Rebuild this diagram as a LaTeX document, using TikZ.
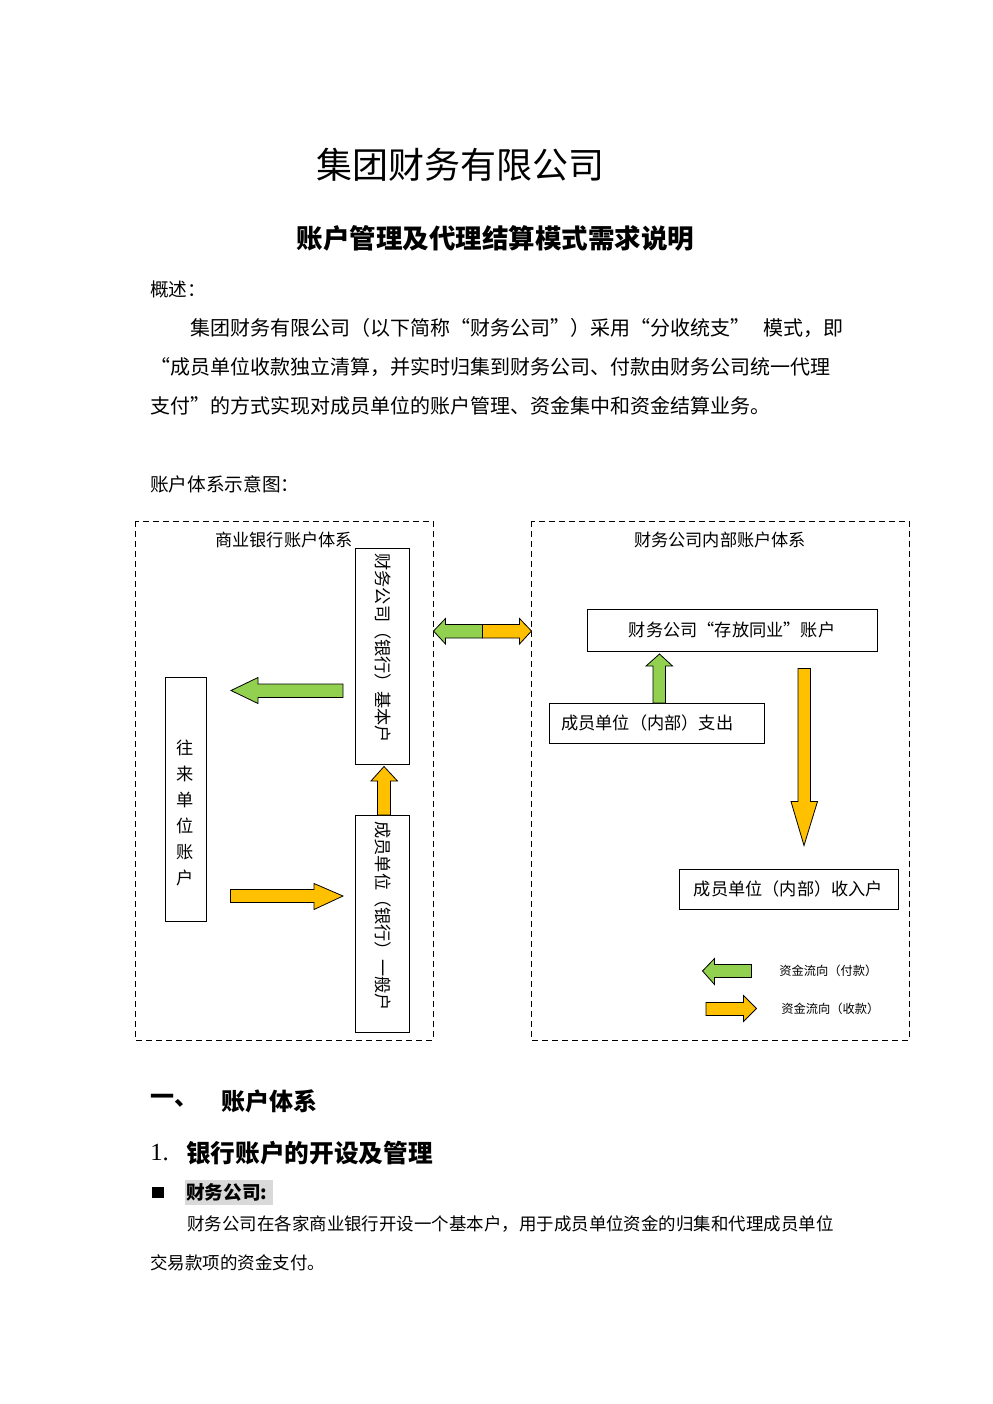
\documentclass[tikz,border=0pt]{standalone}
\usepackage{fontspec}
\setmainfont{Liberation Serif}
\newfontfamily\cjk{Noto Sans CJK SC}
\newcommand\myfs[1]{\fontsize{#1}{#1}\selectfont}
\definecolor{agreen}{HTML}{92D050}
\definecolor{ayellow}{HTML}{FFC000}
\definecolor{hlgray}{HTML}{D9D9D9}
\begin{document}
\begin{tikzpicture}[x=0.75pt,y=-0.75pt,
  txt/.style={inner sep=0pt, anchor=west, font=\cjk\myfs{15pt}},
  lbl/.style={inner sep=0pt, font=\cjk\myfs{12.9pt}},
  box/.style={draw, line width=0.75pt, inner sep=0pt},
  grp/.style={draw, line width=0.75pt, dash pattern=on 4.5pt off 3pt},
  arr/.style={draw=black, line width=0.6pt, line join=miter}]
\useasboundingbox (0,0) rectangle (993,1404);
\fill[white] (0,0) rectangle (993,1404);

% titles
\node[inner sep=0pt, font=\cjk\myfs{27pt}] (title) at (460,165) {集团财务有限公司};
\node[inner sep=0pt, font=\cjk\bfseries\myfs{19.9pt}] (subtitle) at (495.5,238) {账户管理及代理结算模式需求说明};

% overview
\node[txt, font=\cjk\myfs{14pt}] (ov) at (150,289) {概述：};
\node[txt] (p1a) at (190,328) {集团财务有限公司（以下简称“财务公司”）采用“分收统支”};
\node[txt] (p1b) at (763,328) {模式，即};
\node[txt] (p2) at (150,367) {“成员单位收款独立清算，并实时归集到财务公司、付款由财务公司统一代理};
\node[txt] (p3) at (150,406) {支付”的方式实现对成员单位的账户管理、资金集中和资金结算业务。};
\node[txt, font=\cjk\myfs{14pt}] (dg) at (150,484) {账户体系示意图：};

% group boxes
\draw[grp] (135,521) rectangle (433,1040);
\draw[grp] (531,521) rectangle (909,1040);
\node[lbl] (gl) at (284,540) {商业银行账户体系};
\node[lbl] (gr) at (720,540) {财务公司内部账户体系};

% account boxes
\node[box, minimum width=40.5pt, minimum height=162pt] (jb) at (382,656) {};
\node[lbl, rotate=-90] (jbt) at (383,648) {财务公司（银行）基本户};
\node[box, minimum width=40.5pt, minimum height=162.75pt] (yb) at (382,923.5) {};
\node[lbl, rotate=-90] (ybt) at (383,916) {成员单位（银行）一般户};
\node[box, minimum width=30.75pt, minimum height=183pt] (wl) at (185.5,799) {};
\node[inner sep=0pt, align=center, font=\cjk\fontsize{12.9pt}{19.5pt}\selectfont] (wlt) at (185.5,812.5) {往\\来\\单\\位\\账\\户};
\node[box, minimum width=217.5pt, minimum height=31.5pt, font=\cjk\myfs{12.9pt}] (cf) at (732,630) {财务公司“存放同业”账户};
\node[box, minimum width=161.25pt, minimum height=30pt] (zc) at (656.5,723) {};
\node[lbl, anchor=west] (zct) at (561,723) {成员单位（内部）支出};
\node[box, minimum width=164.25pt, minimum height=30pt, font=\cjk\myfs{12.9pt}] (sr) at (788.5,889) {成员单位（内部）收入户};

% arrows
\filldraw[arr, fill=agreen] (231,690.5) -- (258,677.5) -- (258,684) -- (343,684) -- (343,697.5) -- (258,697.5) -- (258,703.5) -- cycle;
\filldraw[arr, fill=ayellow] (384,766.5) -- (397.5,781) -- (390.5,781) -- (390.5,815) -- (377.5,815) -- (377.5,781) -- (371,781) -- cycle;
\filldraw[arr, fill=ayellow] (230.5,889.5) -- (314,889.5) -- (314,883.5) -- (343,896) -- (314,909.5) -- (314,902.5) -- (230.5,902.5) -- cycle;
\filldraw[arr, fill=agreen] (433.5,631) -- (445.5,618.5) -- (445.5,624.5) -- (482.5,624.5) -- (482.5,638) -- (445.5,638) -- (445.5,644) -- cycle;
\filldraw[arr, fill=ayellow] (482.5,624.5) -- (519.5,624.5) -- (519.5,618.5) -- (531.5,631) -- (519.5,644) -- (519.5,638) -- (482.5,638) -- cycle;
\filldraw[arr, fill=agreen] (659.5,654) -- (672.5,666) -- (665.5,666) -- (665.5,703) -- (653,703) -- (653,666) -- (646,666) -- cycle;
\filldraw[arr, fill=ayellow] (798,668.5) -- (810.5,668.5) -- (810.5,801.5) -- (817.5,801.5) -- (804,845.5) -- (791,801.5) -- (798,801.5) -- cycle;

% legend
\filldraw[arr, fill=agreen] (702.5,971) -- (714.5,958.5) -- (714.5,964.5) -- (751.5,964.5) -- (751.5,977.5) -- (714.5,977.5) -- (714.5,984.5) -- cycle;
\filldraw[arr, fill=ayellow] (706,1002.5) -- (743.5,1002.5) -- (743.5,995.5) -- (756.5,1008.5) -- (743.5,1021.5) -- (743.5,1015.5) -- (706,1015.5) -- cycle;
\node[txt, font=\cjk\myfs{9.2pt}] (lg1) at (779,971) {资金流向（付款）};
\node[txt, font=\cjk\myfs{9.2pt}] (lg2) at (781,1009) {资金流向（收款）};

% section headings
\node[txt, font=\cjk\bfseries\myfs{18pt}] (h1a) at (150,1101) {一、};
\node[txt, font=\cjk\bfseries\myfs{18pt}] (h1b) at (221,1101) {账户体系};
\node[txt, font=\myfs{18.5pt}] (h2a) at (150,1153) {1.};
\node[txt, font=\cjk\bfseries\myfs{18.5pt}] (h2b) at (186,1153) {银行账户的开设及管理};
\fill[hlgray] (185,1180) rectangle (273,1205);
\fill[black] (152,1186.5) rectangle (163.5,1198);
\node[txt, font=\cjk\bfseries\myfs{14pt}] (h3) at (186,1192) {财务公司:};
\node[txt, font=\cjk\myfs{13.1pt}] (q1) at (187,1224) {财务公司在各家商业银行开设一个基本户，用于成员单位资金的归集和代理成员单位};
\node[txt, font=\cjk\myfs{13.1pt}] (q2) at (150,1263) {交易款项的资金支付。};
\end{tikzpicture}
\end{document}
